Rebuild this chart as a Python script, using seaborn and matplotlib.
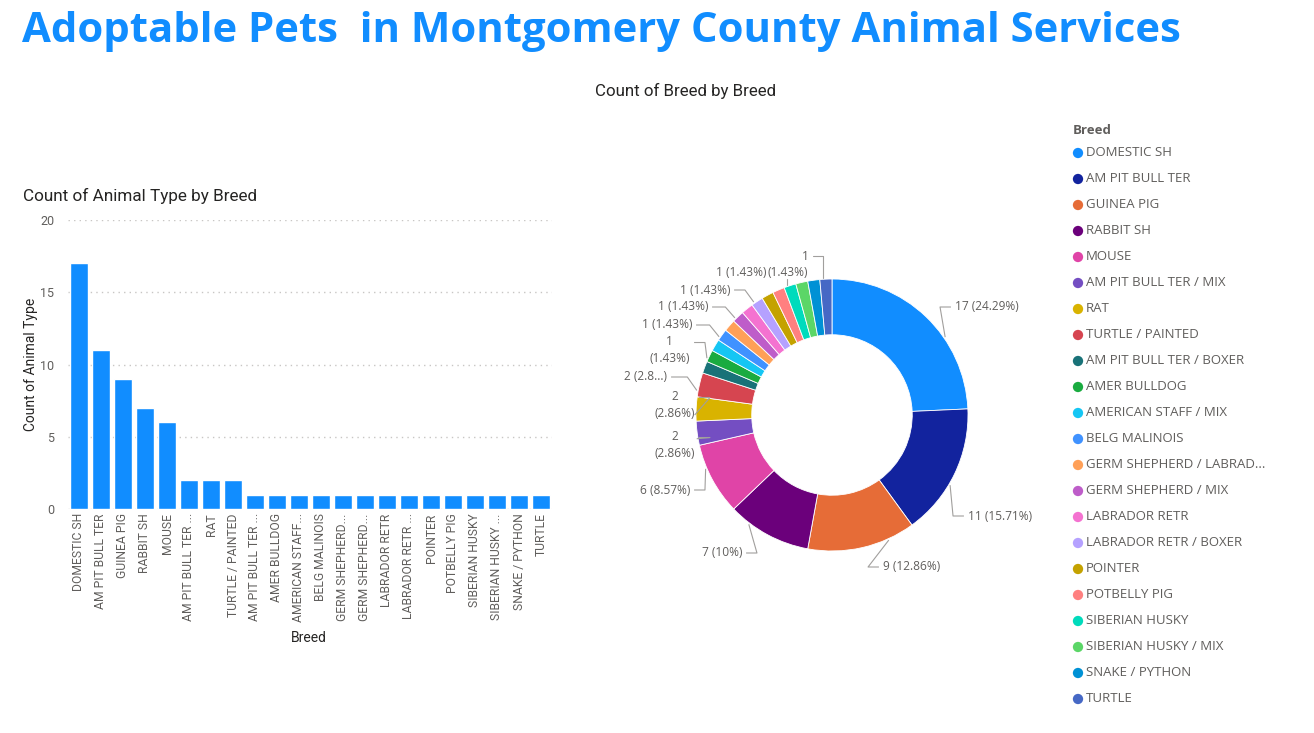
import numpy as np
import pandas as pd
import matplotlib
matplotlib.use("Agg")
import matplotlib.pyplot as plt
import seaborn as sns

# ---------------- data ----------------
breeds = ["DOMESTIC SH", "AM PIT BULL TER", "GUINEA PIG", "RABBIT SH", "MOUSE",
          "AM PIT BULL TER / MIX", "RAT", "TURTLE / PAINTED", "AM PIT BULL TER / BOXER",
          "AMER BULLDOG", "AMERICAN STAFF / MIX", "BELG MALINOIS", "GERM SHEPHERD / LABRAD...",
          "GERM SHEPHERD / MIX", "LABRADOR RETR", "LABRADOR RETR / BOXER", "POINTER",
          "POTBELLY PIG", "SIBERIAN HUSKY", "SIBERIAN HUSKY / MIX", "SNAKE / PYTHON", "TURTLE"]
counts = [17, 11, 9, 7, 6, 2, 2, 2, 1, 1, 1, 1, 1, 1, 1, 1, 1, 1, 1, 1, 1, 1]
bar_tick_labels = ["DOMESTIC SH", "AM PIT BULL TER", "GUINEA PIG", "RABBIT SH", "MOUSE",
                   "AM PIT BULL TER ...", "RAT", "TURTLE / PAINTED", "AM PIT BULL TER ...",
                   "AMER BULLDOG", "AMERICAN STAFF...", "BELG MALINOIS", "GERM SHEPHERD...",
                   "GERM SHEPHERD...", "LABRADOR RETR", "LABRADOR RETR ...", "POINTER",
                   "POTBELLY PIG", "SIBERIAN HUSKY", "SIBERIAN HUSKY ...", "SNAKE / PYTHON", "TURTLE"]
y_ticks = [0, 5, 10, 15, 20]
palette = ["#118DFF", "#12239E", "#E66C37", "#6B007B", "#E044A7", "#744EC2", "#D9B300",
           "#D64550", "#197278", "#1AAB40", "#15C6F4", "#4092FF", "#FFA058", "#BE5DC9",
           "#F472D0", "#B5A1FF", "#C4A200", "#FF8080", "#00DBBC", "#5BD667", "#0091D5", "#4668C5"]
# donut labels shown: slice index -> label text
pie_label_text = {0: "17 (24.29%)", 1: "11 (15.71%)", 2: "9 (12.86%)", 3: "7 (10%)",
                  4: "6 (8.57%)", 5: "2\n(2.86%)", 6: "2\n(2.86%)", 7: "2 (2.8...)",
                  9: "1\n(1.43%)", 11: "1 (1.43%)", 13: "1 (1.43%)", 15: "1 (1.43%)",
                  16: "1 (1.43%)", 18: "(1.43%)", 21: "1"}

# ---------------- layout (pixels of a 1314x733 canvas) ----------------
W, H = 1314, 733
# label placement: (text x, text y, ha, line mode)
pie_label_pos = {0: (955, 307, "left", "side"), 1: (968, 516, "left", "side"),
                 2: (883, 567, "left", "side"), 3: (742, 553, "right", "side"),
                 4: (690, 490, "right", "side"), 5: (695, 445, "right", "side"),
                 6: (695, 405, "right", "side"), 7: (667, 377, "right", "side"),
                 9: (690, 350, "right", "side"), 11: (692, 325, "right", "side"),
                 13: (708, 307, "right", "side"), 15: (730, 290, "right", "side"),
                 16: (767, 272, "right", "none"), 18: (808, 272, "right", "top"),
                 21: (809, 256, "right", "top")}

sns.set_theme(style="white")
plt.rcParams['font.family'] = ['Open Sans', 'DejaVu Sans']

fig = plt.figure(figsize=(W / 100, H / 100), dpi=100)
fig.patch.set_facecolor("white")

TXT = "#252423"
GRAY = "#605E5C"

# title
fig.text(22 / W, 1 - 31 / H, "Adoptable Pets  in Montgomery County Animal Services",
         fontsize=30.2, fontweight="bold", color="#118DFF", va="center", ha="left")

# ---------------- bar chart ----------------
ax1 = fig.add_axes([68 / W, 1 - 509 / H, (552 - 68) / W, (509 - 220) / H])
df = pd.DataFrame({"Breed": breeds, "Count": counts})
sns.barplot(data=df, x="Breed", y="Count", color="#118DFF", saturation=1,
            width=0.8, ax=ax1, order=breeds)
ax1.set_ylim(0, 20)
ax1.set_yticks(y_ticks)
ax1.set_yticklabels([str(v) for v in y_ticks], fontsize=9, color=GRAY, family="Roboto")
ax1.set_xticks(range(len(breeds)))
ax1.set_xticklabels(bar_tick_labels, rotation=90, fontsize=8.7, color=GRAY, family="Roboto",
                    va="top", ha="center")
ax1.tick_params(axis="both", length=0, pad=3)
ax1.tick_params(axis="y", pad=10)
ax1.grid(axis="y", linestyle=(0, (1, 3)), color="#C8C6C4", linewidth=1)
ax1.set_axisbelow(True)
for s in ax1.spines.values():
    s.set_visible(False)
ax1.set_ylabel("Count of Animal Type", fontsize=10, color=TXT, family="Roboto")
ax1.yaxis.set_label_coords((38 - 68) / 484, 0.5)
ax1.set_xlabel("")
fig.text(309 / W, 1 - 638 / H, "Breed", fontsize=10, color=TXT, family="Roboto",
         ha="center", va="center")
fig.text(23 / W, 1 - 196 / H, "Count of Animal Type by Breed", fontsize=12.3, color=TXT,
         family="Roboto", ha="left", va="center")

# ---------------- donut ----------------
cx, cy, R = 832, 415, 136
half = 250
ax2 = fig.add_axes([(cx - half) / W, 1 - (cy + half) / H, 2 * half / W, 2 * half / H])
wedges, _ = ax2.pie(counts, colors=palette, startangle=90, counterclock=False, radius=1,
                    wedgeprops=dict(width=0.41, edgecolor="white", linewidth=0.6))
lim = half / R
ax2.set_xlim(-lim, lim)
ax2.set_ylim(-lim, lim)
ax2.set_aspect("equal")
ax2.axis("off")

total = float(sum(counts))
cum = np.concatenate([[0], np.cumsum(counts)])
for i, txt in pie_label_text.items():
    px, py, ha, mode = pie_label_pos[i]
    tx, ty = (px - cx) / R, (cy - py) / R
    a0 = 90 - cum[i] / total * 360
    a1 = 90 - cum[i + 1] / total * 360
    lo, hi = min(a0, a1), max(a0, a1)
    m = 0.25 * (hi - lo)
    tcx = tx + (0.25 if ha == "left" else -0.25)
    ang = np.degrees(np.arctan2(ty, tcx))
    if ang < lo - 180:
        ang += 360
    ang = float(np.clip(ang, lo + m, hi - m))
    axx, ayy = np.cos(np.radians(ang)) * 1.01, np.sin(np.radians(ang)) * 1.01
    ax2.text(tx, ty, txt, ha=ha, va="center", fontsize=8.6, color=GRAY,
             multialignment="center", linespacing=1.35)
    lc = "#A19F9D"
    if mode == "side":
        side = 1 if ha == "left" else -1
        ly = ty + (0.055 if "\n" in txt else 0)
        end = tx - side * 0.03
        ex = axx + side * 0.07
        if side * (end - ex) < 0.08:
            ex = end - side * 0.08
        ax2.plot([axx, ex, end], [ayy, ly, ly], color=lc, lw=0.8, solid_capstyle="butt")
    elif mode == "top":
        if i == 21:
            ax2.plot([axx, axx, tx + 0.03], [ayy, ty, ty], color=lc, lw=0.8)
        else:
            ax2.plot([axx, axx], [ayy, ty - 0.05], color=lc, lw=0.8)

fig.text(686 / W, 1 - 91 / H, "Count of Breed by Breed", fontsize=12.2, color=TXT,
         family="Roboto", ha="center", va="center")

# ---------------- legend ----------------
ax3 = fig.add_axes([1065 / W, 1 - 715 / H, (1314 - 1065) / W, (715 - 115) / H])
ax3.set_xlim(1065, 1314)
ax3.set_ylim(715, 115)
ax3.axis("off")
ax3.text(1073, 130, "Breed", fontsize=9.5, fontweight="bold", color=GRAY, va="center", ha="left")
ys = [153 + 26.0 * k for k in range(len(breeds))]
ax3.scatter([1078] * len(breeds), ys, s=55, c=palette, linewidths=0)
for k, b in enumerate(breeds):
    ax3.text(1086, ys[k], b, fontsize=9.5, color=GRAY, va="center", ha="left")

fig.savefig("out.png", dpi=100, facecolor="white")
